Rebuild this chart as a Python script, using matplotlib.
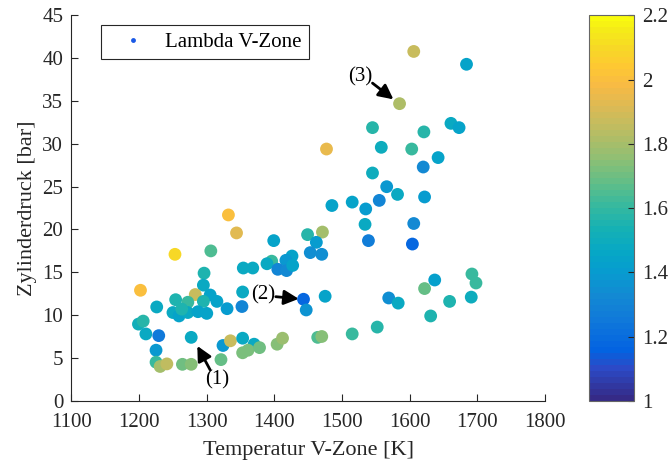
import matplotlib
matplotlib.use("Agg")
import matplotlib.pyplot as plt
import numpy as np
from matplotlib.colors import LinearSegmentedColormap
from matplotlib.lines import Line2D

# temperature V-zone [K], cylinder pressure [bar], lambda V-zone [-]
temp = [
    1606, 1684, 1585, 1545, 1621, 1661, 1673, 1558, 1603, 1642, 1620, 1545,
    1566, 1582, 1622, 1555, 1515, 1535, 1534, 1606, 1539, 1604, 1485, 1477,
    1692, 1698, 1637, 1622, 1569, 1583, 1659, 1691, 1631, 1552, 1515,
    1332, 1344, 1253, 1306, 1399, 1449, 1471, 1462, 1453, 1470, 1426, 1417,
    1396, 1389, 1354, 1368, 1405, 1418, 1427, 1296, 1295, 1202, 1283, 1254,
    1272, 1305, 1315, 1295, 1353, 1352, 1330, 1475, 1443, 1447, 1226, 1250,
    1259, 1272, 1287, 1300, 1263, 1199, 1206, 1210, 1229, 1277, 1225, 1324,
    1335, 1353, 1370, 1225, 1231, 1241, 1264, 1277, 1321, 1353, 1361, 1378,
    1404, 1412, 1464, 1470,
]
pressure = [
    40.8, 39.3, 34.7, 31.9, 31.4, 32.4, 31.9, 29.6, 29.4, 28.4, 27.3, 26.6,
    25.0, 24.1, 23.8, 23.4, 23.2, 22.4, 20.6, 20.7, 18.7, 18.3, 22.8, 29.4,
    14.8, 13.75, 14.1, 13.1, 12.0, 11.4, 11.6, 12.1, 9.9, 8.6, 7.8,
    21.7, 19.6, 17.1, 17.5, 18.7, 19.4, 19.7, 18.5, 17.3, 17.1, 16.9, 16.4,
    16.3, 16.0, 15.5, 15.5, 15.35, 15.2, 15.8, 14.9, 13.5, 12.9, 12.4, 11.8,
    11.5, 12.35, 11.6, 11.6, 12.7, 11.0, 10.75, 12.2, 11.85, 10.6, 10.95, 10.3,
    9.9, 10.3, 10.4, 10.2, 10.7, 8.95, 9.3, 7.8, 7.6, 7.4, 5.9, 6.45,
    7.0, 7.3, 6.6, 4.5, 4.0, 4.3, 4.25, 4.25, 4.8, 5.6, 5.9, 6.2,
    6.6, 7.3, 7.4, 7.5,
]
lambda_v = [
    1.87, 1.45, 1.82, 1.58, 1.58, 1.47, 1.45, 1.50, 1.60, 1.45, 1.32, 1.50,
    1.38, 1.48, 1.40, 1.30, 1.45, 1.40, 1.47, 1.33, 1.27, 1.18, 1.45, 1.95,
    1.60, 1.60, 1.42, 1.68, 1.35, 1.48, 1.55, 1.50, 1.55, 1.58, 1.60,
    2.00, 1.93, 2.10, 1.65, 1.45, 1.57, 1.80, 1.40, 1.35, 1.35, 1.45, 1.38,
    1.60, 1.48, 1.47, 1.47, 1.30, 1.33, 1.45, 1.55, 1.47, 2.00, 1.87, 1.55,
    1.60, 1.45, 1.45, 1.55, 1.47, 1.30, 1.40, 1.45, 1.18, 1.37, 1.48, 1.48,
    1.45, 1.47, 1.45, 1.45, 1.55, 1.52, 1.57, 1.47, 1.25, 1.47, 1.38, 1.38,
    1.87, 1.47, 1.47, 1.60, 1.80, 1.85, 1.70, 1.75, 1.68, 1.72, 1.72, 1.70,
    1.75, 1.77, 1.65, 1.75,
]

# label, arrow head, arrow tail, text position
annotations = [
    ("(1)", (1286, 6.4), (1305, 3.6), (1315, 2.4)),
    ("(2)", (1436, 11.9), (1402, 12.15), (1384, 12.35)),
    ("(3)", (1576, 35.2), (1545, 37.1), (1527, 37.85)),
]

# MATLAB parula (2014, 64 colours) sampled at a few indices
parula = LinearSegmentedColormap.from_list("parula", [
    (0 / 63, (0.2081, 0.1663, 0.5292)), (5 / 63, (0.1707, 0.2919, 0.7792)),
    (8 / 63, (0.0117, 0.3875, 0.8820)), (13 / 63, (0.0629, 0.4737, 0.8554)),
    (17 / 63, (0.0749, 0.5375, 0.8263)), (21 / 63, (0.0265, 0.6137, 0.8135)),
    (24 / 63, (0.0228, 0.6535, 0.7768)), (28 / 63, (0.0843, 0.6928, 0.7062)),
    (32 / 63, (0.2178, 0.7250, 0.6193)), (36 / 63, (0.3953, 0.7459, 0.5244)),
    (40 / 63, (0.5709, 0.7485, 0.4494)), (44 / 63, (0.7184, 0.7411, 0.3905)),
    (48 / 63, (0.8507, 0.7299, 0.3360)), (52 / 63, (0.9739, 0.7314, 0.2666)),
    (55 / 63, (0.9955, 0.7861, 0.1967)), (58 / 63, (0.9697, 0.8481, 0.1475)),
    (61 / 63, (0.9598, 0.9218, 0.0948)), (63 / 63, (0.9763, 0.9831, 0.0538)),
], N=64)

plt.rcParams["font.family"] = ["Liberation Serif", "DejaVu Serif"]
plt.rcParams["font.size"] = 15
dark = (0.15, 0.15, 0.15)

fig = plt.figure(figsize=(6.7, 4.61), dpi=100)
ax = fig.add_axes([0.1067, 0.1308, 0.7067, 0.8356])
cax = fig.add_axes([0.879, 0.130, 0.067, 0.837])

sc = ax.scatter(temp, pressure, c=lambda_v, cmap=parula, vmin=1, vmax=2.2,
                s=85, linewidths=0, zorder=3)

ax.set_xlim(1100, 1800)
ax.set_ylim(0, 45)
ax.set_xticks(np.arange(1100, 1801, 100))
ax.set_yticks(np.arange(0, 46, 5))
ax.set_xlabel("Temperatur V-Zone [K]", color=dark, fontsize=16, labelpad=6)
ax.set_ylabel("Zylinderdruck [bar]", color=dark, fontsize=16, labelpad=4)
for side in ("top", "right"):
    ax.spines[side].set_visible(False)
for side in ("left", "bottom"):
    ax.spines[side].set_color(dark)
    ax.spines[side].set_linewidth(0.8)
ax.tick_params(direction="in", length=5, width=0.8, colors=dark, labelsize=15)
ax.tick_params(axis="x", pad=9)
ax.tick_params(axis="y", pad=6)

for label, head, tail, pos in annotations:
    ax.annotate("", xy=head, xytext=tail, zorder=4,
                arrowprops=dict(arrowstyle="-|>", color="k", lw=2,
                                mutation_scale=22, shrinkA=0, shrinkB=0))
    ax.text(pos[0], pos[1], label, ha="center", va="center", fontsize=15,
            color="k", zorder=4)

handle = Line2D([], [], ls="none", marker="o", markersize=3.5,
                markerfacecolor=(0.1, 0.35, 0.9), markeredgewidth=0)
leg = ax.legend([handle], ["Lambda V-Zone"], loc="upper left",
                bbox_to_anchor=(0.062, 0.975), borderaxespad=0,
                fancybox=False, framealpha=1, edgecolor=dark,
                handlelength=2.4, handletextpad=0.35, borderpad=0.35,
                fontsize=15)
leg.get_frame().set_linewidth(0.8)

cb = fig.colorbar(sc, cax=cax)
cb.set_ticks([1, 1.2, 1.4, 1.6, 1.8, 2, 2.2])
cb.set_ticklabels(["1", "1.2", "1.4", "1.6", "1.8", "2", "2.2"])
cb.ax.tick_params(direction="in", length=4, width=0.8, colors=dark,
                  labelsize=15, pad=6)
cb.outline.set_edgecolor((0.4, 0.4, 0.4))
cb.outline.set_linewidth(0.8)

fig.savefig("out.png", dpi=100)
